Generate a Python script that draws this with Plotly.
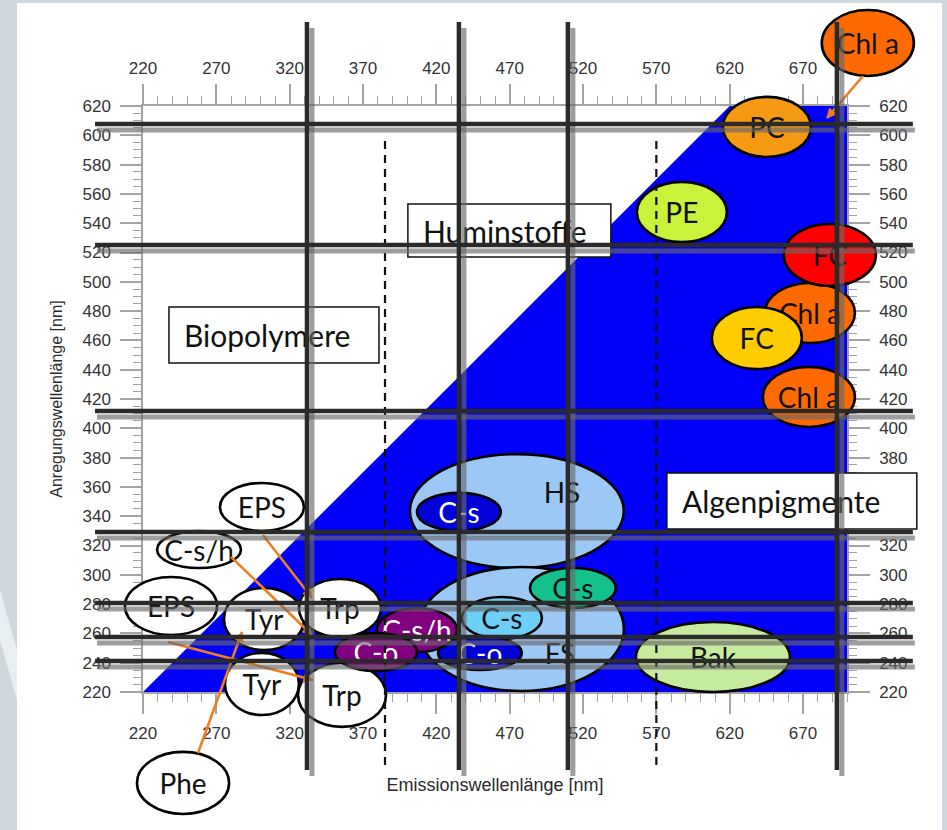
import math
import plotly.graph_objects as go

FIG_W, FIG_H = 947, 830
# plotting window of the EEM plane on the page, pixels
PLOT_LEFT, PLOT_RIGHT = 143, 847
PLOT_TOP, PLOT_BOTTOM = 106, 692

# emission (x) and excitation (y) ranges, nm
em_range = [220, 700]
ex_range = [220, 620]
em_tick_vals = [220, 270, 320, 370, 420, 470, 520, 570, 620, 670]
ex_tick_vals = [220, 240, 260, 280, 300, 320, 340, 360, 380, 400,
                420, 440, 460, 480, 500, 520, 540, 560, 580, 600, 620]

# area where emission >= excitation
region_em = [220, 620, 700, 700, 220]
region_ex = [220, 620, 620, 220, 220]

# fluorophore spots in drawing order
spot_label = ["", "C-s", "", "C-s", "C-s", "C-o", "Bak",
              "EPS", "C-s/h", "EPS", "Tyr", "Trp", "Tyr", "Trp", "Phe",
              "C-s/h", "C-o",
              "PE", "PC", "Chl a", "FC", "FC", "Chl a", "Chl a"]
spot_em = [474.9, 435.4, 477.7, 513.1, 464.7, 449.7, 608.6,
           301.1, 258.2, 239.1, 302.5, 354.3, 301.1, 355.7, 247.3,
           406.8, 378.8,
           587.4, 645.4, 674.7, 688.3, 638.5, 674.0, 714.2]
spot_ex = [343.5, 342.9, 263.0, 291.0, 270.5, 246.6, 243.9,
           346.3, 317.2, 278.7, 269.8, 277.3, 225.5, 218.0, 157.9,
           262.3, 247.3,
           547.6, 605.7, 478.7, 518.3, 461.6, 421.4, 663.0]
spot_half_em = [72.9, 28.6, 70.2, 29.3, 27.3, 28.6, 52.5,
                28.6, 28.6, 31.4, 27.3, 28.0, 25.2, 30.0, 31.4,
                27.3, 28.0,
                30.7, 30.0, 30.7, 31.4, 30.7, 31.4, 31.4]
spot_half_ex = [38.9, 13.0, 42.3, 13.7, 14.3, 11.6, 23.9,
                16.4, 12.6, 19.8, 21.2, 19.8, 21.2, 21.8, 21.2,
                15.0, 13.0,
                20.5, 20.5, 20.5, 21.2, 21.2, 20.5, 22.5]
spot_fill = ["#9cc8f6", "#0000d8", "#9cc8f6", "#14c08c", "#6dcff6", "#0000d8", "#c6eb9e",
             "#ffffff", "#ffffff", "#ffffff", "#ffffff", "#ffffff", "#ffffff", "#ffffff", "#ffffff",
             "#800080", "#800080",
             "#c9f23a", "#f59a12", "#ff6a00", "#ff0000", "#ffcc00", "#ff6a00", "#ff6a00"]
spot_ink = ["#111111", "#ffffff", "#111111", "#111111", "#111111", "#ffffff", "#111111",
            "#111111", "#111111", "#111111", "#111111", "#111111", "#111111", "#111111", "#111111",
            "#ffffff", "#ffffff",
            "#111111", "#111111", "#111111", "#111111", "#111111", "#111111", "#111111"]

# free-standing labels of the two large humic/fulvic areas
tag_label = ["HS", "FS"]
tag_em = [505.7, 504.3]
tag_ex = [356.5, 246.6]
tag_after = [0, 2]

# framed region names
zone_label = ["Huminstoffe", "Biopolymere", "Algenpigmente"]
zone_em0 = [400.6, 237.7, 577.2]
zone_em1 = [539.0, 380.9, 747.6]
zone_ex0 = [516.9, 444.6, 331.3]
zone_ex1 = [553.1, 482.8, 369.5]

# orange pointers (tail -> head)
link_em0 = [301.8, 280.0, 237.0, 257.5, 710.9]
link_ex0 = [327.2, 312.2, 254.1, 178.4, 640.5]
link_em1 = [335.2, 335.2, 335.9, 287.5, 686.4]
link_ex1 = [284.2, 258.9, 228.2, 261.0, 611.8]

# heavy separators
bar_em = [331.8, 435.4, 509.7, 693.1]
bar_ex = [607.7, 525.1, 411.8, 329.2, 280.8, 257.5, 241.2]
bar_ex_span = [166.8, 677.3]
bar_em_span = [187.3, 744.9]

# dashed separators
split_em = [385, 570]
split_ex_span = [170.2, 596.8]

# ---------------------------------------------------------------------------
sx = (PLOT_RIGHT - PLOT_LEFT) / (em_range[1] - em_range[0])
sy = (PLOT_BOTTOM - PLOT_TOP) / (ex_range[1] - ex_range[0])
page_em = [em_range[0] - PLOT_LEFT / sx, em_range[0] + (FIG_W - PLOT_LEFT) / sx]
page_ex = [ex_range[0] - (FIG_H - PLOT_BOTTOM) / sy, ex_range[0] + PLOT_BOTTOM / sy]

LABEL_FONT = "Lato, Carlito, Calibri, sans-serif"
TICK_FONT = dict(family="Liberation Sans, Arial, sans-serif", size=17, color="#333333")
AXIS_GREY = "#a3a3a3"

fig = go.Figure()
fig.add_trace(go.Scatter(x=region_em, y=region_ex, mode="lines", fill="toself",
                         fillcolor="#0000fa", line=dict(width=0), hoverinfo="skip"))
fig.add_trace(go.Scatter(x=[None], y=[None], xaxis="x2", yaxis="y2", hoverinfo="skip"))
fig.add_trace(go.Scatter(x=[None], y=[None], xaxis="x3", yaxis="y3", hoverinfo="skip"))

shapes = []
P = dict(xref="x3", yref="y3", layer="above")

# page frame
shapes.append(dict(type="rect", xref="paper", yref="paper", layer="below",
                   x0=17 / FIG_W, x1=942 / FIG_W, y0=0, y1=1 - 3 / FIG_H,
                   fillcolor="white", line=dict(width=0)))
shapes.append(dict(type="path", xref="paper", yref="paper", layer="below",
                   path="M 0,{a} L {w},{b} L {w},{c} L 0,{d} Z".format(
                       a=1 - 590 / FIG_H, b=1 - 650 / FIG_H, c=1 - 700 / FIG_H,
                       d=1 - 640 / FIG_H, w=17 / FIG_W),
                   fillcolor="#e9eef1", line=dict(width=0)))


def free_label(text, em, ex, size):
    return dict(type="rect", **P, x0=em - 15, x1=em + 15, y0=ex - 8, y1=ex + 8,
                fillcolor="rgba(0,0,0,0)", line=dict(width=0),
                label=dict(text=text, textposition="middle center",
                           font=dict(family=LABEL_FONT, size=size, color="#111111")))


for i, lab in enumerate(spot_label):
    shapes.append(dict(type="circle", **P,
                       x0=spot_em[i] - spot_half_em[i], x1=spot_em[i] + spot_half_em[i],
                       y0=spot_ex[i] - spot_half_ex[i], y1=spot_ex[i] + spot_half_ex[i],
                       fillcolor=spot_fill[i], line=dict(color="black", width=2.6),
                       label=dict(text=lab, textposition="middle center",
                                  font=dict(family=LABEL_FONT, size=28, color=spot_ink[i]))))
    for k, j in enumerate(tag_after):
        if j == i:
            shapes.append(free_label(tag_label[k], tag_em[k], tag_ex[k], 28))

# pointers with arrow heads
ORANGE = "#f07d1e"
for e0, x0_, e1, x1_ in zip(link_em0, link_ex0, link_em1, link_ex1):
    shapes.append(dict(type="line", **P, x0=e0, y0=x0_, x1=e1, y1=x1_,
                       line=dict(color=ORANGE, width=2.6)))
    dx, dy = (e1 - e0) * sx, (x1_ - x0_) * sy
    n = math.hypot(dx, dy)
    ux, uy = dx / n, dy / n
    L, Wd = 9.0, 4.5
    bx, by = -ux * L, -uy * L
    pts = [(0, 0), (bx - uy * Wd, by + ux * Wd), (bx + uy * Wd, by - ux * Wd)]
    pts = [(e1 + px / sx, x1_ + py / sy) for px, py in pts]
    shapes.append(dict(type="path", **P,
                       path="M {} {} L {} {} L {} {} Z".format(*[c for p in pts for c in p]),
                       fillcolor=ORANGE, line=dict(color=ORANGE, width=1)))

# framed region names
for i, lab in enumerate(zone_label):
    shapes.append(dict(type="rect", **P, x0=zone_em0[i], x1=zone_em1[i],
                       y0=zone_ex0[i], y1=zone_ex1[i], fillcolor="white",
                       line=dict(color="#111111", width=1.5),
                       label=dict(text=lab, textposition="middle left", padding=12,
                                  font=dict(family=LABEL_FONT, size=30, color="#111111"))))

# dashed separators
for e in split_em:
    shapes.append(dict(type="line", **P, x0=e, x1=e, y0=split_ex_span[0], y1=split_ex_span[1],
                       line=dict(color="#111111", width=2.2, dash="8px,6px")))

# heavy separators with their grey drop shadow
sh_e, sh_x = 5 / sx, -6 / sy
SHADOW = "rgba(105,105,105,0.65)"
DARK = "#2a2a2a"
for e in bar_em:
    shapes.append(dict(type="line", **P, x0=e + sh_e, x1=e + sh_e,
                       y0=bar_ex_span[0] + sh_x, y1=bar_ex_span[1] + sh_x,
                       line=dict(color=SHADOW, width=5)))
for x in bar_ex:
    shapes.append(dict(type="line", **P, y0=x + sh_x, y1=x + sh_x,
                       x0=bar_em_span[0] + sh_e * 0.4, x1=bar_em_span[1] + sh_e * 0.4,
                       line=dict(color=SHADOW, width=5)))
for e in bar_em:
    shapes.append(dict(type="line", **P, x0=e, x1=e, y0=bar_ex_span[0], y1=bar_ex_span[1],
                       line=dict(color=DARK, width=4.5)))
for x in bar_ex:
    shapes.append(dict(type="line", **P, y0=x, y1=x, x0=bar_em_span[0], x1=bar_em_span[1],
                       line=dict(color=DARK, width=4.5)))

common = dict(showline=True, linecolor=AXIS_GREY, linewidth=1.5, ticks="outside",
              tickcolor=AXIS_GREY, tickwidth=1.5, showgrid=False, zeroline=False,
              tickfont=TICK_FONT, fixedrange=True, automargin=False)
em_axis = dict(common, range=em_range, tickmode="array", tickvals=em_tick_vals, ticklen=20,
               minor=dict(tickmode="linear", tick0=220, dtick=10, ticks="outside", ticklen=8,
                          tickcolor=AXIS_GREY, tickwidth=1.2, showgrid=False))
ex_axis = dict(common, range=ex_range, tickmode="array", tickvals=ex_tick_vals, ticklen=21,
               minor=dict(tickmode="linear", tick0=220, dtick=5, ticks="outside", ticklen=8,
                          tickcolor=AXIS_GREY, tickwidth=1.2, showgrid=False))

fig.update_layout(
    width=FIG_W, height=FIG_H, margin=dict(l=0, r=0, t=0, b=0, autoexpand=False),
    paper_bgcolor="#cfd8dd", plot_bgcolor="rgba(0,0,0,0)", showlegend=False,
    xaxis=dict(em_axis, domain=[PLOT_LEFT / FIG_W, PLOT_RIGHT / FIG_W], anchor="y",
               ticklabelstandoff=5,
               title=dict(text="Emissionswellenlänge [nm]", standoff=36,
                          font=dict(family="Liberation Sans, Arial", size=18, color="#2a2a2a"))),
    xaxis2=dict(em_axis, overlaying="x", side="top", anchor="y", ticklabelstandoff=3),
    yaxis=dict(ex_axis, domain=[1 - PLOT_BOTTOM / FIG_H, 1 - PLOT_TOP / FIG_H], anchor="x",
               ticklabelstandoff=6,
               title=dict(text="Anregungswellenlänge [nm]", standoff=16,
                          font=dict(family="Liberation Sans, Arial", size=16, color="#2a2a2a"))),
    yaxis2=dict(ex_axis, overlaying="y", side="right", anchor="x", ticklabelstandoff=6),
    xaxis3=dict(domain=[0, 1], range=page_em, visible=False, anchor="y3", fixedrange=True,
                automargin=False),
    yaxis3=dict(domain=[0, 1], range=page_ex, visible=False, anchor="x3", fixedrange=True,
                automargin=False),
    shapes=shapes,
)

fig.write_html("out.html")
